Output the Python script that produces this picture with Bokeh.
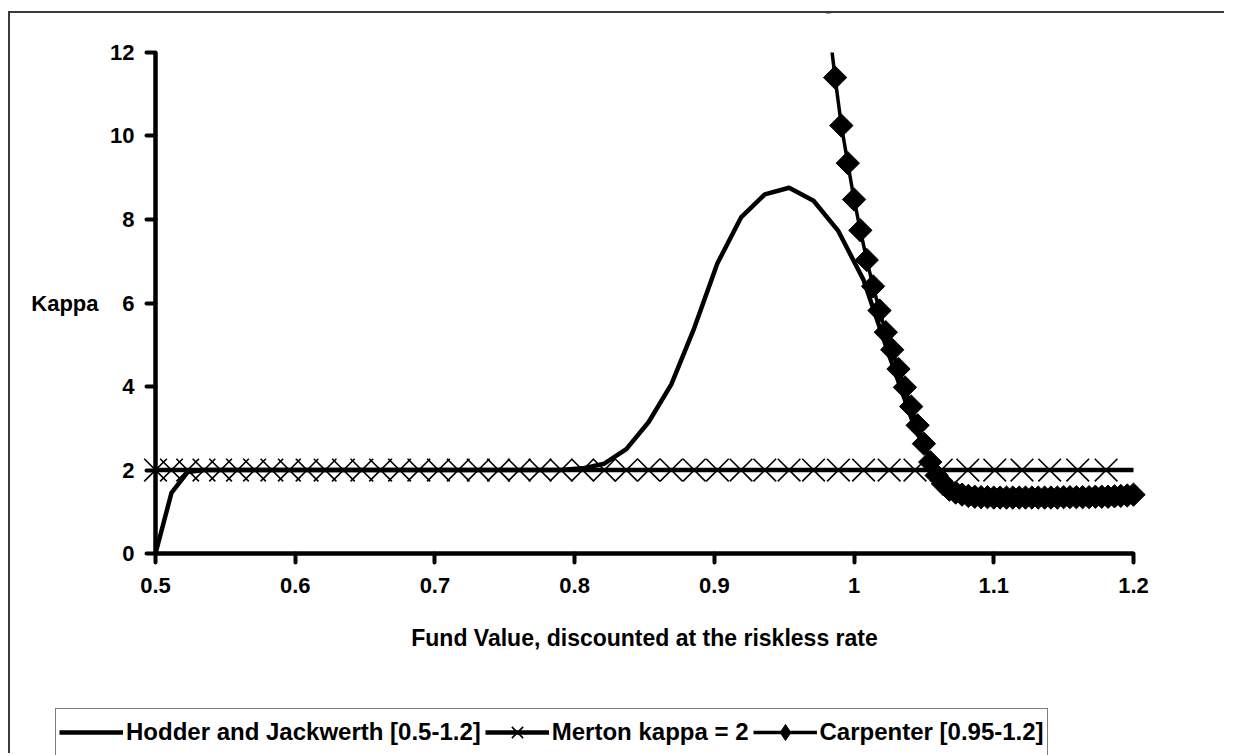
import math
from bokeh.plotting import figure
from bokeh.models import Range1d, Legend, LegendItem, Label, FixedTicker, BoxAnnotation
from bokeh.embed import file_html
from bokeh.resources import INLINE

# ---------------- data ----------------
fund_grid = [0.5, 0.5114, 0.523, 0.5347, 0.5466, 0.5587, 0.5709, 0.5833, 0.5958, 0.6085,
             0.6214, 0.6345, 0.6477, 0.6611, 0.6747, 0.6885, 0.7025, 0.7167, 0.731, 0.7455,
             0.7603, 0.7752, 0.7903, 0.8057, 0.8212, 0.837, 0.853, 0.8692, 0.8856, 0.9022,
             0.9191, 0.9361, 0.9535, 0.971, 0.9888, 1.0068, 1.0251, 1.0436, 1.0624, 1.0814,
             1.1007, 1.1202, 1.14, 1.1601, 1.1804]
fund_line = fund_grid + [1.2]

hodder_kappa = [0.0, 1.45, 1.95, 2.0, 2.0, 2.0, 2.0, 2.0, 2.0, 2.0,
                2.0, 2.0, 2.0, 2.0, 2.0, 2.0, 2.0, 2.0, 2.0, 2.0,
                2.0, 2.0, 2.0, 2.04, 2.15, 2.5, 3.15, 4.05, 5.4, 6.95,
                8.05, 8.6, 8.76, 8.45, 7.72, 6.55, 4.75, 3.0, 1.75, 1.45,
                1.38, 1.37, 1.37, 1.37, 1.38, 1.40]

merton_kappa = [2.0, 2.0, 2.0, 2.0, 2.0, 2.0, 2.0, 2.0, 2.0, 2.0,
                2.0, 2.0, 2.0, 2.0, 2.0, 2.0, 2.0, 2.0, 2.0, 2.0,
                2.0, 2.0, 2.0, 2.0, 2.0, 2.0, 2.0, 2.0, 2.0, 2.0,
                2.0, 2.0, 2.0, 2.0, 2.0, 2.0, 2.0, 2.0, 2.0, 2.0,
                2.0, 2.0, 2.0, 2.0, 2.0, 2.0]

carpenter_x = [0.95, 0.9545, 0.9591, 0.9636, 0.9682, 0.9727, 0.9773, 0.9818, 0.9864, 0.9909,
               0.9955, 1.0, 1.0045, 1.0091, 1.0136, 1.0182, 1.0227, 1.0273, 1.0318, 1.0364,
               1.0409, 1.0455, 1.05, 1.0545, 1.0591, 1.0636, 1.0682, 1.0727, 1.0773, 1.0818,
               1.0864, 1.0909, 1.0955, 1.1, 1.1045, 1.1091, 1.1136, 1.1182, 1.1227, 1.1273,
               1.1318, 1.1364, 1.1409, 1.1455, 1.15, 1.1545, 1.1591, 1.1636, 1.1682, 1.1727,
               1.1773, 1.1818, 1.1864, 1.1909, 1.1955, 1.2]
carpenter_kappa = [31.0, 27.0, 23.5, 20.5, 18.0, 16.0, 14.2, 12.7, 11.4, 10.25,
                   9.35, 8.48, 7.74, 7.03, 6.40, 5.82, 5.30, 4.88, 4.42, 3.98,
                   3.52, 3.07, 2.63, 2.19, 1.87, 1.67, 1.53, 1.46, 1.41, 1.38,
                   1.36, 1.35, 1.35, 1.34, 1.34, 1.34, 1.34, 1.34, 1.34, 1.34,
                   1.34, 1.34, 1.34, 1.34, 1.35, 1.35, 1.35, 1.35, 1.35, 1.36,
                   1.36, 1.36, 1.37, 1.38, 1.39, 1.41]

x_ticks = [0.5, 0.6, 0.7, 0.8, 0.9, 1.0, 1.1, 1.2]
x_tick_labels = ["0.5", "0.6", "0.7", "0.8", "0.9", "1", "1.1", "1.2"]
y_ticks = [0, 2, 4, 6, 8, 10, 12]
y_max = 12

labels = ["Hodder and Jackwerth [0.5-1.2]", "Merton kappa = 2", "Carpenter [0.95-1.2]"]
x_title = "Fund Value, discounted at the riskless rate"
y_title = "Kappa"

FONT = "Liberation Sans"

# ---------------- figure ----------------
W, H = 1216, 742
p = figure(width=W, height=H,
           x_range=Range1d(0.39621, 1.26657), y_range=Range1d(-4.838, 12.934),
           output_backend="svg", toolbar_location=None,
           min_border_left=0, min_border_right=0, min_border_top=0, min_border_bottom=0)
p.styles = {"margin-left": "8px", "margin-top": "11px",
            "border-left": "2px solid #3a3a3a", "border-top": "2px solid #3a3a3a"}
p.grid.visible = False
p.outline_line_color = None
p.background_fill_color = "white"
p.border_fill_color = "white"

p.xaxis.ticker = FixedTicker(ticks=x_ticks)
p.xaxis.major_label_overrides = {t: l for t, l in zip(x_ticks, x_tick_labels)}
p.yaxis.ticker = FixedTicker(ticks=y_ticks)
p.xaxis.fixed_location = 0
p.yaxis.fixed_location = 0.5
p.xaxis.bounds = (0.5, 1.2)
p.yaxis.bounds = (0, y_max)

for ax in (p.xaxis[0], p.yaxis[0]):
    ax.axis_line_width = 4.5
    ax.axis_line_color = "black"
    ax.major_tick_line_width = 4
    ax.major_tick_line_color = "black"
    ax.major_tick_line_cap = "round"
    ax.major_tick_out = 9
    ax.major_tick_in = 0
    ax.minor_tick_line_color = None
    ax.major_label_text_font = FONT
    ax.major_label_text_font_style = "bold"
    ax.major_label_text_font_size = "22px"
    ax.major_label_text_color = "black"
p.xaxis.major_label_standoff = 15
p.yaxis.major_label_standoff = 12

# ---------------- series ----------------
hj = p.line(fund_line, hodder_kappa, line_color="black", line_width=4.5, line_join="round")
ml = p.line(fund_line, merton_kappa, line_color="black", line_width=4.5)
ms = p.scatter(fund_grid, merton_kappa[:len(fund_grid)], marker="x", size=32,
               line_color="black", line_width=1.6)
cl = p.line(carpenter_x, carpenter_kappa, line_color="black", line_width=3.5)
cs = p.scatter(carpenter_x, carpenter_kappa, marker="square", angle=math.pi / 4, size=16.5,
               fill_color="black", line_color="black", line_width=1)

# legend-only marker glyphs, placed on the off-chart start of the Carpenter series
ms_leg = p.scatter(carpenter_x[:1], carpenter_kappa[:1], marker="x", size=20,
                   line_color="black", line_width=1.6)
cs_leg = p.scatter(carpenter_x[:1], carpenter_kappa[:1], marker="diamond", size=20,
                   fill_color="black", line_color="black", line_width=1)

# the plot area ends at kappa = 12: hide whatever lies above it
mask = BoxAnnotation(bottom=y_max, top=60, fill_color="white", fill_alpha=1.0,
                     line_color=None, level="glyph")
p.add_layout(mask)

# ---------------- titles ----------------
p.add_layout(Label(x=0.5, y=6, x_offset=-57, text=y_title, text_align="right",
                   text_baseline="middle", text_font=FONT, text_font_style="bold",
                   text_font_size="22px", text_color="black"))
p.add_layout(Label(x=0.85, y=0, y_offset=-84, text=x_title, text_align="center",
                   text_baseline="middle", text_font=FONT, text_font_style="bold",
                   text_font_size="23px", text_color="black"))

# ---------------- legend ----------------
legend = Legend(items=[LegendItem(label=labels[0], renderers=[hj]),
                       LegendItem(label=labels[1], renderers=[ml, ms_leg]),
                       LegendItem(label=labels[2], renderers=[cl, cs_leg])],
                location=(45, -1), orientation="horizontal", margin=0,
                border_line_color="black", border_line_width=1.5,
                padding=3, spacing=4, label_standoff=3,
                glyph_width=64, glyph_height=40,
                label_text_font=FONT, label_text_font_style="bold",
                label_text_font_size="24px", label_text_color="black",
                background_fill_color="white", background_fill_alpha=1)
p.add_layout(legend)

open("out.html", "w").write(file_html(p, INLINE))
